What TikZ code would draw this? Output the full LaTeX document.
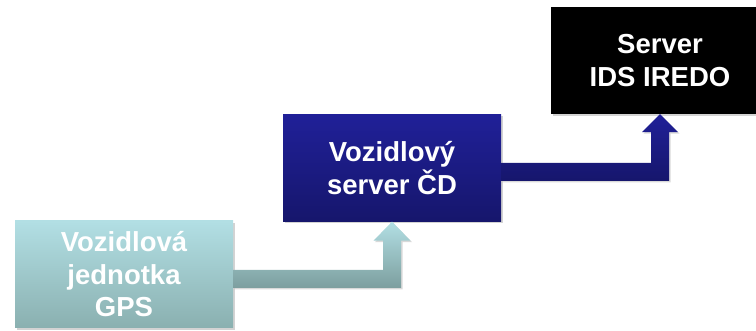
\documentclass[tikz,border=0pt]{standalone}
\usepackage{fontspec}
\setmainfont{Liberation Sans}
\usetikzlibrary{calc,shadows}
\definecolor{tealtop}{RGB}{178,223,228}
\definecolor{tealbot}{RGB}{138,176,176}
\definecolor{bluetop}{RGB}{32,32,152}
\definecolor{bluebot}{RGB}{22,22,108}
\tikzset{
  box/.style={rectangle, minimum width=218pt, minimum height=107pt, inner sep=0pt,
    align=center, text=white, font=\fontsize{27.5}{32.5}\selectfont\bfseries,
    drop shadow={opacity=0.35, shadow xshift=2pt, shadow yshift=-2pt}},
  tealbox/.style={box, top color=tealtop, bottom color=tealbot},
  bluebox/.style={box, top color=bluetop, bottom color=bluebot},
  blackbox/.style={box, fill=black},
}
\begin{document}
\begin{tikzpicture}[x=1pt,y=1pt]
\useasboundingbox (0,0) rectangle (756,331);
\clip (0,0) rectangle (756,331);
\node[tealbox] (gps) at (124,56.5) {Vozidlová\\jednotka\\GPS};
\node[bluebox] (cd) at (392,163) {Vozidlový\\server ČD};
\node[blackbox] (ids) at (660,270.5) {Server\\IDS IREDO};
% arrow gps -> cd
\shade[top color=tealtop, bottom color=tealbot!90!black,
  drop shadow={opacity=0.3, shadow xshift=1.5pt, shadow yshift=-1.5pt}]
  let \p1=(gps.east), \p2=(cd.south) in
  ({\x1},{\y1+4.5pt}) -- ({\x2-9pt},{\y1+4.5pt}) -- ({\x2-9pt},{\y2-19pt})
  -- ({\x2-18.5pt},{\y2-19pt}) -- (\x2,\y2) -- ({\x2+18.5pt},{\y2-19pt})
  -- ({\x2+9pt},{\y2-19pt}) -- ({\x2+9pt},{\y1-13.5pt}) -- ({\x1},{\y1-13.5pt}) -- cycle;
% arrow cd -> ids
\shade[top color=bluetop, bottom color=bluebot,
  drop shadow={opacity=0.3, shadow xshift=1.5pt, shadow yshift=-1.5pt}]
  let \p1=(cd.east), \p2=(ids.south) in
  ({\x1},{\y1+5pt}) -- ({\x2-9pt},{\y1+5pt}) -- ({\x2-9pt},{\y2-18pt})
  -- ({\x2-18pt},{\y2-18pt}) -- (\x2,\y2) -- ({\x2+18pt},{\y2-18pt})
  -- ({\x2+9pt},{\y2-18pt}) -- ({\x2+9pt},{\y1-13pt}) -- ({\x1},{\y1-13pt}) -- cycle;
\end{tikzpicture}
\end{document}
